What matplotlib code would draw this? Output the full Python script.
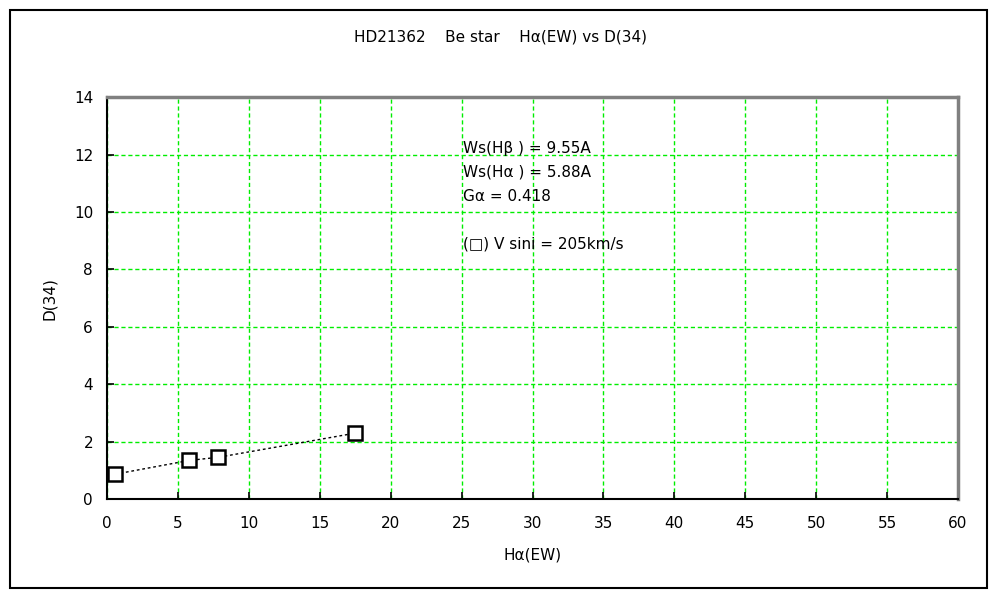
import matplotlib.pyplot as plt
from matplotlib.patches import Rectangle

ew = [0.56, 5.8, 7.85, 17.5]
d34 = [0.87, 1.35, 1.46, 2.3]
xticks = list(range(0, 61, 5))
yticks = list(range(0, 15, 2))
notes = ["Ws(H\u03b2 ) = 9.55A", "Ws(H\u03b1 ) = 5.88A", "G\u03b1 = 0.418", "", "(\u25a1) V sini = 205km/s"]

plt.rcParams['font.family'] = ['DejaVu Sans']
fig = plt.figure(figsize=(10, 6), dpi=100)
fig.patches.append(Rectangle((0.010, 0.020), 0.977, 0.963, transform=fig.transFigure,
                             fill=False, edgecolor='black', linewidth=1.5))
ax = fig.add_axes([0.107, 0.168, 0.851, 0.670])

ax.plot(ew, d34, linestyle=(0, (2, 2)), color='black', linewidth=1)
ax.plot(ew, d34, 's', markersize=10, markerfacecolor='white', markeredgecolor='black',
        markeredgewidth=1.8, linestyle='none')

ax.set_xlim(0, 60)
ax.set_ylim(0, 14)
ax.set_xticks(xticks)
ax.set_yticks(yticks)
ax.grid(True, color='#00ee00', linestyle=(0, (3, 2)), linewidth=1.0)
ax.tick_params(direction='in', length=5, width=1.2, labelsize=11, pad=10)
ax.tick_params(axis='x', pad=12)
for s in ['left', 'bottom']:
    ax.spines[s].set_color('black')
    ax.spines[s].set_linewidth(1.5)
for s in ['top', 'right']:
    ax.spines[s].set_color('gray')
    ax.spines[s].set_linewidth(2.5)

ax.set_xlabel("H\u03b1(EW)", fontsize=11, labelpad=12)
ax.set_ylabel("D(34)", fontsize=11, labelpad=12)
fig.text(0.5, 0.938, "HD21362    Be star    H\u03b1(EW) vs D(34)", ha='center', va='center', fontsize=11)

for i, line in enumerate(notes):
    fig.text(0.463, 0.753 - i * 0.040, line, ha='left', va='center', fontsize=11)

fig.savefig("out.png", dpi=100)
